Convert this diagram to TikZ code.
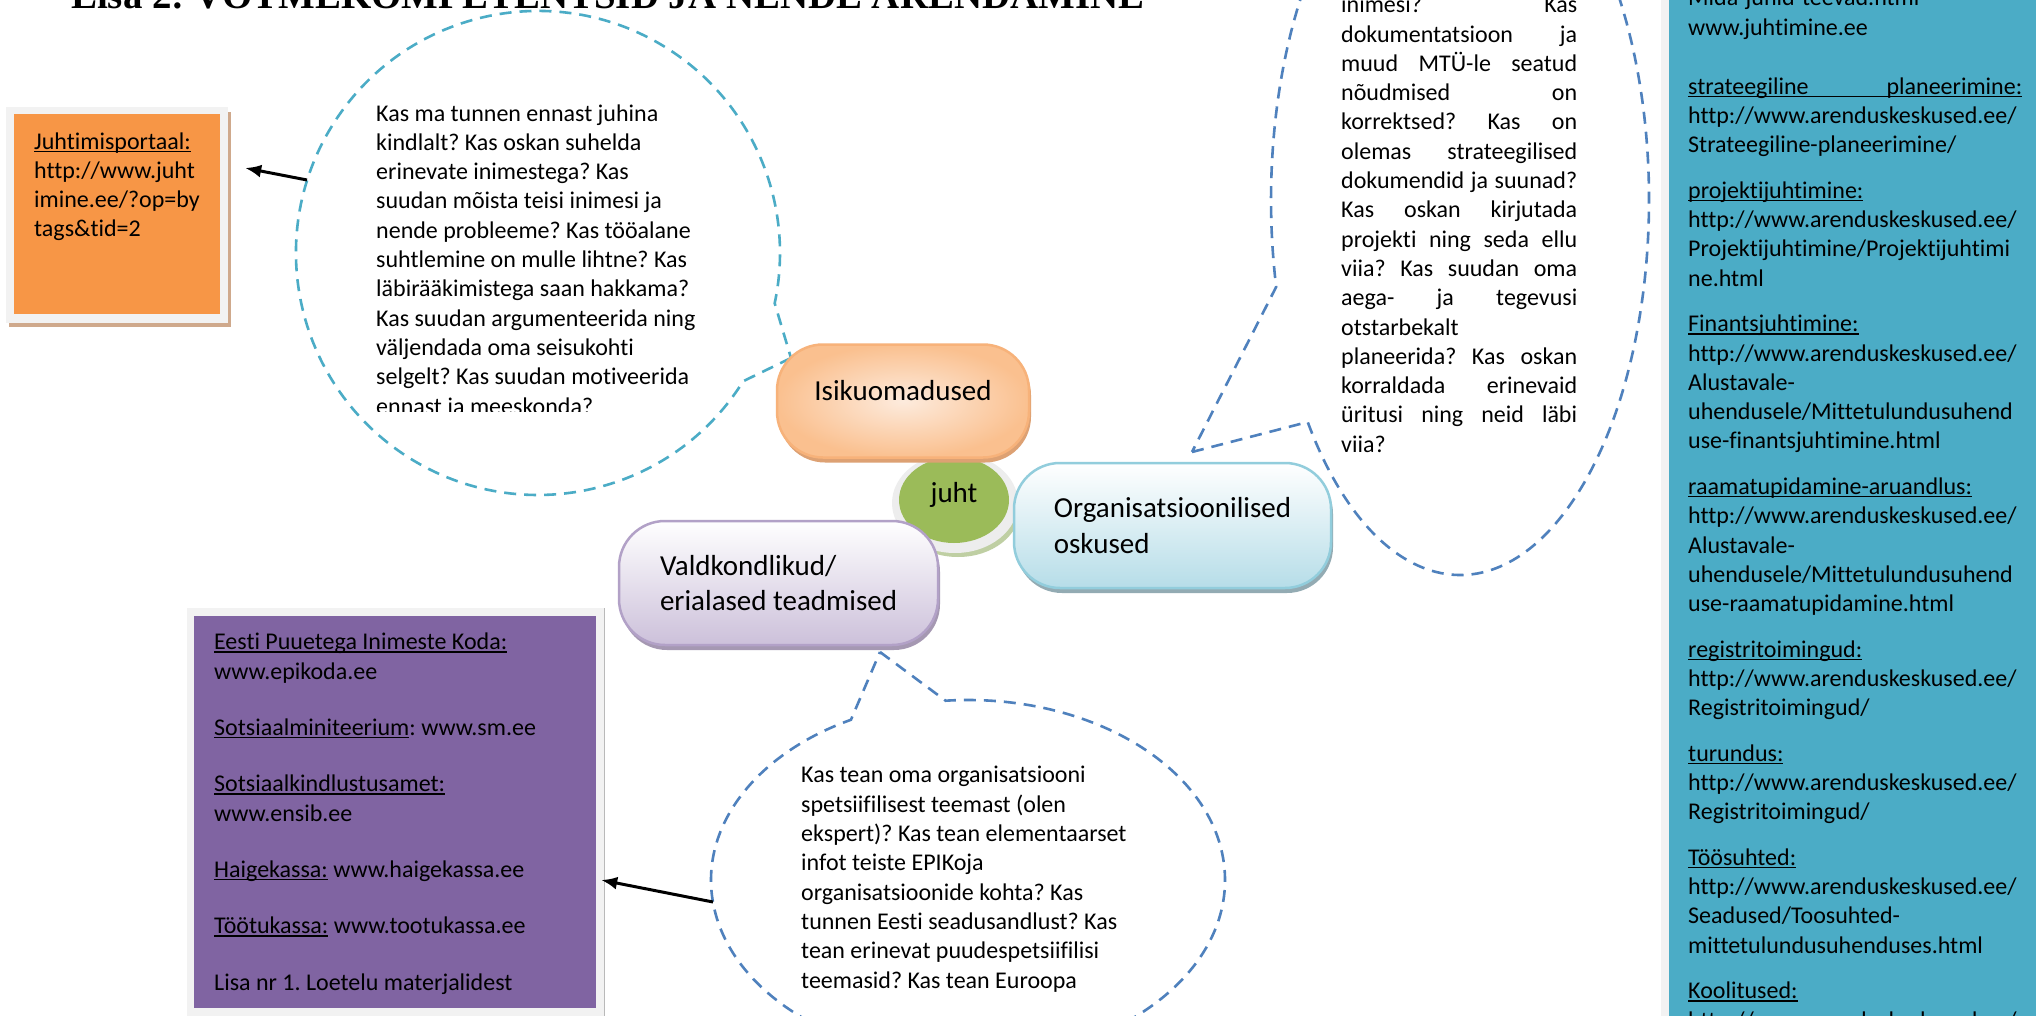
\documentclass[tikz,border=0pt]{standalone}
\usepackage{fontspec}
\setmainfont{Carlito}[Ligatures=NoCommon]
\newfontfamily\titlefont{Liberation Serif}
\usetikzlibrary{shapes.geometric,shadows,arrows.meta}

\definecolor{orangebox}{HTML}{F79646}
\definecolor{purplebox}{HTML}{8064A2}
\definecolor{bluebox}{HTML}{4BACC6}
\definecolor{framegray}{HTML}{F2F2F2}
\definecolor{tanshadow}{HTML}{CFA98C}
\definecolor{cyanline}{HTML}{4BACC6}
\definecolor{blueline}{HTML}{4F81BD}
\definecolor{juhtgreen}{HTML}{9BBB59}
\definecolor{halogray}{HTML}{EDEDED}
\definecolor{juhtshadow}{HTML}{BFCFA3}
\definecolor{isiklight}{HTML}{FDEBDD}
\definecolor{isikdark}{HTML}{FAC08F}
\definecolor{isikborder}{HTML}{F7B27A}
\definecolor{isikshadow}{HTML}{DDA173}
\definecolor{orgbottom}{HTML}{B6DDE8}
\definecolor{orgborder}{HTML}{92CDDC}
\definecolor{orgshadow}{HTML}{93ABB3}
\definecolor{valdbottom}{HTML}{CCC0DA}
\definecolor{valdborder}{HTML}{B2A1C7}
\definecolor{valdshadow}{HTML}{A598B2}

\frenchspacing
\newsavebox\undlbox
\newcommand{\undl}[1]{\sbox\undlbox{#1}\rlap{\rule[-2.8pt]{\wd\undlbox}{1.4pt}}\usebox\undlbox}
\newcommand{\jline}[1]{\makebox[236pt][s]{#1}}

\tikzset{
  body/.style={font=\fontsize{24}{29.3}\selectfont, align=left, inner sep=0pt, anchor=base west},
  callout/.style={dash pattern=on 12pt off 8pt, line width=2.6pt},
  topic/.style={rounded corners=46pt, line width=2.5pt, font=\fontsize{29}{35.4}\selectfont, align=left, inner sep=0pt},
  arrow/.style={-{Latex[length=16pt,width=13pt]}, line width=3pt},
}

\begin{document}
\begin{tikzpicture}[x=1pt,y=-1pt]
  \clip (0,0) rectangle (2036,1016);
  \fill[white] (0,0) rectangle (2036,1016);

  % title, cut by the top edge
  \node[anchor=base west, inner sep=0pt, font=\titlefont\fontsize{38.9}{40}\bfseries\selectfont] (title) at (71,9) {Lisa 2: VÕTMEKOMPETENTSID JA NENDE ARENDAMINE};

  % right panel (base = last line)
  \fill[framegray] (1661,0) rectangle (1669,1016);
  \fill[bluebox] (1669,0) rectangle (2036,1016);
  \node[body] (links) at (1688,1028) {Mida-juhid-teevad.html\\
    www.juhtimine.ee\\[29.7pt]
    \undl{\makebox[334pt][s]{strateegiline planeerimine:}}\\
    http://www.arenduskeskused.ee/\\
    Strateegiline-planeerimine/\\[16.2pt]
    \undl{projektijuhtimine:}\\
    http://www.arenduskeskused.ee/\\
    Projektijuhtimine/Projektijuhtimi\\
    ne.html\\[16.2pt]
    \undl{Finantsjuhtimine:}\\
    http://www.arenduskeskused.ee/\\
    Alustavale-\\
    uhendusele/Mittetulundusuhend\\
    use-finantsjuhtimine.html\\[16.2pt]
    \undl{raamatupidamine-aruandlus:}\\
    http://www.arenduskeskused.ee/\\
    Alustavale-\\
    uhendusele/Mittetulundusuhend\\
    use-raamatupidamine.html\\[16.2pt]
    \undl{registritoimingud:}\\
    http://www.arenduskeskused.ee/\\
    Registritoimingud/\\[16.2pt]
    \undl{turundus:}\\
    http://www.arenduskeskused.ee/\\
    Registritoimingud/\\[16.2pt]
    \undl{Töösuhted:}\\
    http://www.arenduskeskused.ee/\\
    Seadused/Toosuhted-\\
    mittetulundusuhenduses.html\\[16.2pt]
    \undl{Koolitused:}\\
    http://www.arenduskeskused.ee/};

  % orange box
  \fill[tanshadow] (9,112) rectangle (231,327);
  \fill[framegray] (6,107) rectangle (228,323);
  \node[fill=orangebox, minimum width=206pt, minimum height=200pt, inner sep=0pt] (portaal) at (117,214) {};
  \node[body] (portaal-text) at (34,237) {\undl{Juhtimisportaal:}\\ http://www.juht\\ imine.ee/?op=by\\ tags\&tid=2};

  % purple box
  \fill[framegray] (187,608) rectangle (604,1016);
  \draw[gray!55, line width=1pt] (604,608) -- (604,1016);
  \node[fill=purplebox, minimum width=402pt, minimum height=392pt, inner sep=0pt] (lisa) at (395,812) {};
  \node[body] (lisa-text) at (214,990) {\undl{Eesti Puuetega Inimeste Koda:}\\
    www.epikoda.ee\\[27pt]
    \undl{Sotsiaalminiteerium}: www.sm.ee\\[27pt]
    \undl{Sotsiaalkindlustusamet:}\\
    www.ensib.ee\\[27pt]
    \undl{Haigekassa:} www.haigekassa.ee\\[27pt]
    \undl{Töötukassa:} www.tootukassa.ee\\[27pt]
    Lisa nr 1. Loetelu materjalidest};

  % callouts
  \draw[callout, cyanline] (791,358) -- (743.2,381.2) arc[start angle=32, end angle=372, radius=242] -- cycle;
  \draw[callout, blueline] (1192,452) -- (1307.7,422) arc[start angle=143.7, end angle=-193.4, x radius=189, y radius=375] -- cycle;
  \draw[callout, blueline] (880,652) -- (945.6,700.7) arc[start angle=265, end angle=602.9, x radius=257, y radius=180] -- cycle;

  \begin{scope}
    \clip (360,60) rectangle (700,411.5);
    \node[body] (isik-text) at (376,414) {Kas ma tunnen ennast juhina\\
      kindlalt? Kas oskan suhelda\\
      erinevate inimestega? Kas\\
      suudan mõista teisi inimesi ja\\
      nende probleeme? Kas tööalane\\
      suhtlemine on mulle lihtne? Kas\\
      läbirääkimistega saan hakkama?\\
      Kas suudan argumenteerida ning\\
      väljendada oma seisukohti\\
      selgelt? Kas suudan motiveerida\\
      ennast ja meeskonda?};
  \end{scope}

  \node[body] (org-text) at (1341,452.2) {\jline{inimesi? Kas}\\
    \jline{dokumentatsioon ja}\\
    \jline{muud MTÜ-le seatud}\\
    \jline{nõudmised on}\\
    \jline{korrektsed? Kas on}\\
    \jline{olemas strateegilised}\\
    \jline{dokumendid ja suunad?}\\
    \jline{Kas oskan kirjutada}\\
    \jline{projekti ning seda ellu}\\
    \jline{viia? Kas suudan oma}\\
    \jline{aega- ja tegevusi}\\
    otstarbekalt\\
    \jline{planeerida? Kas oskan}\\
    \jline{korraldada erinevaid}\\
    \jline{üritusi ning neid läbi}\\
    viia?};

  \node[body] (vald-text) at (801,988) {Kas tean oma organisatsiooni\\
    spetsiifilisest teemast (olen\\
    ekspert)? Kas tean elementaarset\\
    infot teiste EPIKoja\\
    organisatsioonide kohta? Kas\\
    tunnen Eesti seadusandlust? Kas\\
    tean erinevat puudespetsiifilisi\\
    teemasid? Kas tean Euroopa};

  % centre
  \fill[juhtshadow] (958,509) ellipse [x radius=62, y radius=48];
  \fill[halogray] (955,503) ellipse [x radius=63, y radius=50];
  \node[ellipse, fill=juhtgreen, minimum width=110pt, minimum height=86pt, inner sep=0pt, font=\fontsize{29}{35}\selectfont, text height=18pt, text depth=14pt] (juht) at (954,500) {juht};

  \node[topic, draw=isikborder, inner color=isiklight, outer color=isikdark, minimum width=252pt, minimum height=113pt, text height=18pt, text depth=20pt,
    drop shadow={shadow xshift=2pt, shadow yshift=-5pt, fill=isikshadow, opacity=1}] (isik) at (903,401) {Isikuomadused};
  \node[topic, draw=orgborder, top color=white, bottom color=orgbottom, minimum width=317pt, minimum height=125pt,
    drop shadow={shadow xshift=2pt, shadow yshift=-5pt, fill=orgshadow, opacity=1}] (org) at (1172.5,525.5) {Organisatsioonilised\\ oskused};
  \node[topic, draw=valdborder, top color=white, bottom color=valdbottom, minimum width=319pt, minimum height=124pt,
    drop shadow={shadow xshift=2pt, shadow yshift=-5pt, fill=valdshadow, opacity=1}] (vald) at (778.5,583) {Valdkondlikud/\\ erialased teadmised};

  % arrows
  \coordinate (isik-out) at (307,180);
  \coordinate (vald-out) at (713,902);
  \coordinate (portaal-in) at ([xshift=25pt,yshift=46pt]portaal.east);
  \coordinate (lisa-in) at ([xshift=5pt,yshift=-68pt]lisa.east);
  \draw[arrow] (isik-out) -- (portaal-in);
  \draw[arrow] (vald-out) -- (lisa-in);
\end{tikzpicture}
\end{document}
